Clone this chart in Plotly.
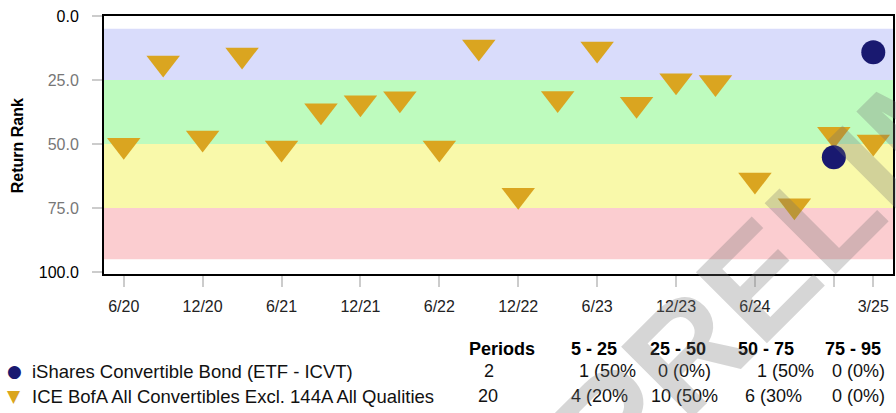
import plotly.graph_objects as go

# ---------------- data ----------------
quarters = ["6/20", "9/20", "12/20", "3/21", "6/21", "9/21", "12/21", "3/22",
            "6/22", "9/22", "12/22", "3/23", "6/23", "9/23", "12/23", "3/24",
            "6/24", "9/24", "12/24", "3/25"]
index_rank = [50.5, 18.4, 47.7, 15.2, 51.6, 37.0, 33.9, 32.3, 51.6, 12.1,
              70.0, 32.2, 12.9, 34.5, 25.3, 26.0, 64.1, 74.1, 46.2, 49.2]
etf_quarters = ["12/24", "3/25"]
etf_rank = [55.2, 14.2]

band_edges = [5, 25, 50, 75, 95]
band_colors = ["#D9DCFB", "#BEFBBE", "#F9F9AA", "#FBCDD0"]

xtick_vals = ["6/20", "12/20", "6/21", "12/21", "6/22", "12/22", "6/23",
              "12/23", "6/24", "12/24", "3/25"]
xtick_text = ["6/20", "12/20", "6/21", "12/21", "6/22", "12/22", "6/23",
              "12/23", "6/24", "", "3/25"]
ytick_vals = [0, 25, 50, 75, 100]
ytick_text = ["0.0", "25.0", "50.0", "75.0", "100.0"]

series_names = ["iShares Convertible Bond (ETF - ICVT)",
                "ICE BofA All Convertibles Excl. 144A All Qualities"]
table_header = ["Periods", "5 - 25", "25 - 50", "50 - 75", "75 - 95"]
table_rows = [["2", "1 (50%", "0 (0%)", "1 (50%", "0 (0%)"],
              ["20", "4 (20%", "10 (50%", "6 (30%", "0 (0%)"]]
watermark = "PRELIMINARY"

NAVY = "#191970"
GOLD = "#DAA520"
FONT = "Liberation Sans, Arial, Helvetica, sans-serif"

# ---------------- layout geometry (pixels) ----------------
W, H = 896, 413
L, R, T, B = 104, 1, 16, 139
PW, PH = W - L - R, H - T - B


def xp(px):
    return (px - L) / PW


def yp(py):
    return (H - B - py) / PH


fig = go.Figure()

fig.add_trace(go.Scatter(
    x=quarters, y=index_rank, mode="markers", name=series_names[1],
    marker=dict(symbol="triangle-down", size=29, color=GOLD, line=dict(width=0)),
    showlegend=False))
fig.add_trace(go.Scatter(
    x=etf_quarters, y=etf_rank, mode="markers", name=series_names[0],
    marker=dict(symbol="circle", size=24, color=NAVY, line=dict(width=0)),
    showlegend=False))

shapes = []
for i, c in enumerate(band_colors):
    shapes.append(dict(type="rect", xref="paper", yref="y", x0=0, x1=1,
                       y0=band_edges[i], y1=band_edges[i + 1],
                       fillcolor=c, line=dict(width=0), layer="below"))

annotations = []
# y axis title
annotations.append(dict(text="<b>Return Rank</b>", xref="paper", yref="paper",
                        x=xp(17), y=yp(146), textangle=-90, showarrow=False,
                        xanchor="center", yanchor="middle",
                        font=dict(size=16, color="black", family=FONT)))

# table header
header_x = [468, 570, 649, 738, 825]
for txt, x in zip(table_header, header_x):
    annotations.append(dict(text="<b>%s</b>" % txt, xref="paper", yref="paper",
                            x=xp(x), y=yp(349), xanchor="left", yanchor="middle",
                            showarrow=False, font=dict(size=18, color="black", family=FONT)))

row_y = [371, 396]
row_x = [[483, 578, 657, 757, 832], [477, 570, 650, 745, 832]]
row_marks = ["●", "▼"]
row_colors = [NAVY, GOLD]
for r in range(2):
    annotations.append(dict(text=row_marks[r], xref="paper", yref="paper",
                            x=xp(14), y=yp(row_y[r]), xanchor="center", yanchor="middle",
                            showarrow=False, font=dict(size=17, color=row_colors[r], family="DejaVu Sans")))
    annotations.append(dict(text=series_names[r], xref="paper", yref="paper",
                            x=xp(30), y=yp(row_y[r]), xanchor="left", yanchor="middle",
                            showarrow=False, font=dict(size=18.5, color="#111", family=FONT)))
    for txt, x in zip(table_rows[r], row_x[r]):
        annotations.append(dict(text=txt, xref="paper", yref="paper",
                                x=xp(x), y=yp(row_y[r]), xanchor="left", yanchor="middle",
                                showarrow=False, font=dict(size=18, color="#111", family=FONT)))

# watermark
annotations.append(dict(text="<b>%s</b>" % watermark, xref="paper", yref="paper",
                        x=xp(936), y=yp(104), xanchor="center", yanchor="middle",
                        textangle=-45, showarrow=False,
                        font=dict(size=146, color="rgba(115,115,115,0.29)", family=FONT)))

ytext = ["<span style='color:black'>%s</span>" % t if v in (0, 100) else t
         for v, t in zip(ytick_vals, ytick_text)]

fig.update_layout(
    width=W, height=H,
    margin=dict(l=L, r=R, t=T, b=B, pad=0),
    paper_bgcolor="white", plot_bgcolor="white",
    font=dict(family=FONT),
    shapes=shapes, annotations=annotations,
    xaxis=dict(type="category", categoryorder="array", categoryarray=quarters,
               range=[-0.5, 19.5], tickmode="array", tickvals=xtick_vals,
               ticktext=xtick_text, ticks="outside", ticklen=11, tickwidth=1.5,
               tickcolor="#cccccc", showgrid=False, zeroline=False,
               showline=True, linecolor="black", linewidth=2, mirror=True,
               tickfont=dict(size=16, color="#222"), ticklabelstandoff=6),
    yaxis=dict(range=[100.8, 0], tickmode="array", tickvals=ytick_vals,
               ticktext=ytext, ticks="outside", ticklen=10, tickwidth=1.5,
               tickcolor="#cccccc", showgrid=False, zeroline=False,
               showline=True, linecolor="black", linewidth=2, mirror=True,
               tickfont=dict(size=16, color="#777"), ticklabelstandoff=10),
)

fig.write_html("out.html", config={"displayModeBar": False},
               post_script="document.body.style.margin='0px';"
                           "document.body.style.overflow='hidden';")
